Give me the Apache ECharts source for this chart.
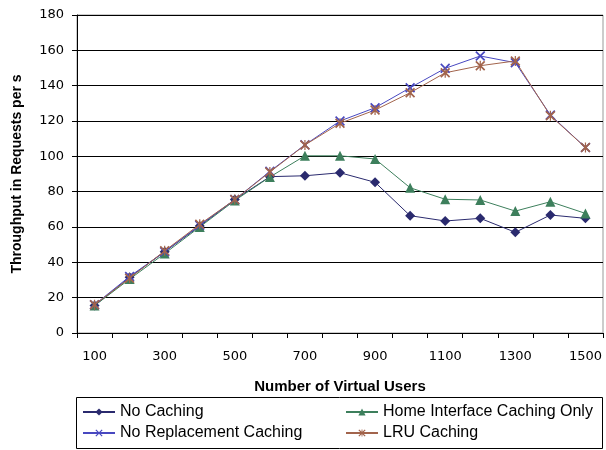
<!DOCTYPE html>
<html>
<head>
<meta charset="utf-8">
<script src="https://cdn.jsdelivr.net/npm/echarts@6/dist/echarts.min.js"></script>
<style>
  html, body { margin: 0; padding: 0; background: #fff; }
  #main { width: 606px; height: 450px; }
</style>
</head>
<body>
<div id="main"></div>
<script>
var users = ['100', '200', '300', '400', '500', '600', '700', '800', '900', '1000', '1100', '1200', '1300', '1400', '1500'];
var noCaching = [15.5, 31.5, 46, 60.5, 75.5, 88.5, 89, 90.7, 85.3, 66.4, 63.4, 64.9, 57, 66.8, 64.9];
var homeCaching = [15.5, 30.5, 45, 60, 75, 88.3, 100.3, 100.3, 98.5, 82.2, 75.7, 75.3, 69, 74.3, 67.7];
var noReplacement = [16, 32, 46, 61, 75.5, 91.5, 106.5, 120, 127.5, 138.8, 149.8, 156.8, 153, 123.4, 105];
var lruCaching = [16, 31, 46.5, 61.5, 75.5, 91.1, 106.4, 118.7, 126.2, 136, 147.3, 151.3, 154, 123, 105];
var yTicks = [0, 180, 20];

var xMark = 'path://M0,1.2 L1.2,0 L10,8.8 L8.8,10 Z M8.8,0 L10,1.2 L1.2,10 L0,8.8 Z';
var starMark = 'path://M0,1.2 L1.2,0 L10,8.8 L8.8,10 Z M8.8,0 L10,1.2 L1.2,10 L0,8.8 Z M4.4,0 L5.6,0 L5.6,10 L4.4,10 Z';

var chart = echarts.init(document.getElementById('main'));

function mkSeries(name, data, color, symbol, size) {
  return {
    name: name,
    type: 'line',
    data: data,
    symbol: symbol,
    symbolSize: size,
    showSymbol: true,
    lineStyle: { color: color, width: 1 },
    itemStyle: { color: color },
    emphasis: { disabled: true },
    animation: false
  };
}

var legendText = { fontFamily: 'Liberation Sans, Arial', fontSize: 16, color: '#000' };
var tickFont = 'DejaVu Sans';

var option = {
  animation: false,
  grid: { left: 77, right: 3, top: 15, bottom: 117, show: true, borderColor: '#999', borderWidth: 1 },
  graphic: [{
    type: 'rect',
    shape: { x: 76.5, y: 397.5, width: 526, height: 51 },
    style: { fill: 'none', stroke: '#000', lineWidth: 1 }
  }],
  legend: [{
    data: ['No Caching', 'No Replacement Caching'],
    orient: 'vertical',
    left: 82,
    top: 404,
    padding: 0,
    itemWidth: 32,
    itemHeight: 9,
    itemGap: 5,
    textStyle: legendText
  }, {
    data: ['Home Interface Caching Only', 'LRU Caching'],
    orient: 'vertical',
    left: 345,
    top: 404,
    padding: 0,
    itemWidth: 32,
    itemHeight: 9,
    itemGap: 5,
    textStyle: legendText
  }],
  xAxis: {
    type: 'category',
    data: users,
    boundaryGap: true,
    name: 'Number of Virtual Users',
    nameLocation: 'middle',
    nameGap: 46,
    nameTextStyle: { fontFamily: 'Liberation Sans, Arial', fontSize: 15, fontWeight: 'bold', color: '#000' },
    axisLine: { lineStyle: { color: '#000', width: 1 } },
    axisTick: { show: true, interval: 0, length: 5, inside: false, lineStyle: { color: '#000' } },
    axisLabel: { interval: 1, margin: 17, fontFamily: tickFont, fontSize: 13, color: '#000' },
    splitLine: { show: false }
  },
  yAxis: {
    type: 'value',
    min: yTicks[0],
    max: yTicks[1],
    interval: yTicks[2],
    name: 'Throughput in Requests per s',
    nameLocation: 'middle',
    nameGap: 53,
    nameTextStyle: { fontFamily: 'Liberation Sans, Arial', fontSize: 14, fontWeight: 'bold', color: '#000' },
    axisLine: { show: true, lineStyle: { color: '#000', width: 1 } },
    axisTick: { show: true, length: 5, lineStyle: { color: '#000' } },
    axisLabel: { margin: 13, fontFamily: tickFont, fontSize: 13, color: '#000' },
    splitLine: { show: true, lineStyle: { color: '#000', width: 1 } }
  },
  series: [
    mkSeries('No Caching', noCaching, '#2a2a6e', 'diamond', 10),
    mkSeries('Home Interface Caching Only', homeCaching, '#3d7f5c', 'triangle', 10),
    mkSeries('No Replacement Caching', noReplacement, '#4848c0', xMark, 10),
    mkSeries('LRU Caching', lruCaching, '#a2644c', starMark, 10)
  ]
};
chart.setOption(option);
</script>
</body>
</html>
